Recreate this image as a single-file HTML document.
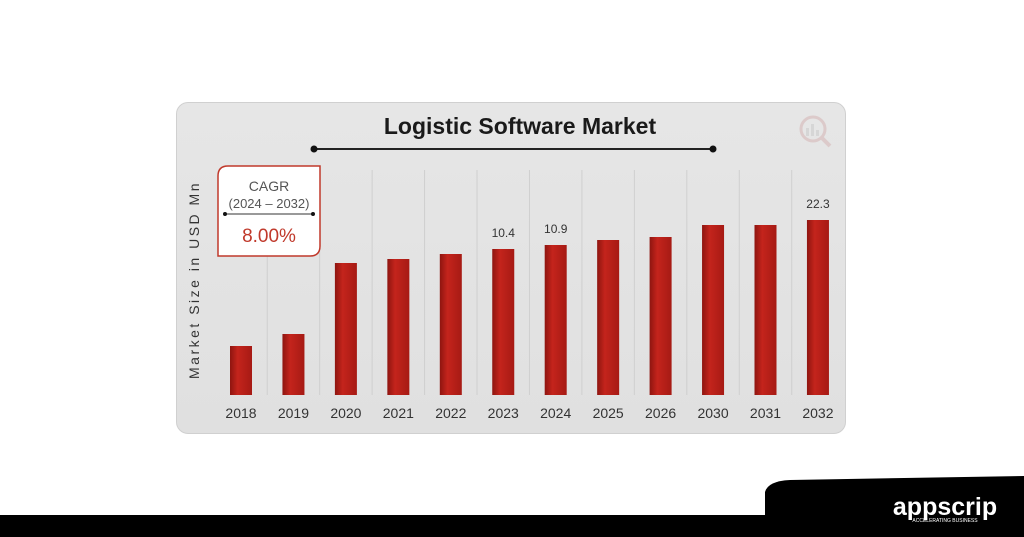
<!DOCTYPE html>
<html><head><meta charset="utf-8"><style>
body{margin:0;width:1024px;height:537px;background:#fff;overflow:hidden;font-family:"Liberation Sans",sans-serif;position:relative}
#panel{position:absolute;left:176px;top:102px;width:668px;height:330px;border-radius:12px;background:linear-gradient(#e6e6e6,#e0e0e0);border:1px solid #d0d0d0}
</style></head><body>
<div id="panel"></div>
<svg width="1024" height="537" style="position:absolute;left:0;top:0">
<defs>
<linearGradient id="bg" x1="0" x2="1"><stop offset="0" stop-color="#8e1510"/><stop offset="0.35" stop-color="#c4241c"/><stop offset="1" stop-color="#a61a14"/></linearGradient>
</defs>
<g id="grid"></g>
<text x="520" y="134" text-anchor="middle" font-size="23" font-weight="bold" fill="#1a1a1a">Logistic Software Market</text>
<line x1="314" y1="149" x2="713" y2="149" stroke="#222" stroke-width="2"/>
<circle cx="314" cy="149" r="3.5" fill="#111"/><circle cx="713" cy="149" r="3.5" fill="#111"/>
<g opacity="0.35"><circle cx="813" cy="129" r="12" fill="none" stroke="#c99" stroke-width="3"/><line x1="822" y1="138" x2="830" y2="146" stroke="#c99" stroke-width="4"/><rect x="806" y="128" width="3" height="8" fill="#bbb"/><rect x="811" y="124" width="3" height="12" fill="#bbb"/><rect x="816" y="130" width="3" height="6" fill="#bbb"/></g>
<text transform="translate(199,280) rotate(-90)" text-anchor="middle" font-size="14" letter-spacing="2.5" fill="#333">Market Size in USD Mn</text>
<g id="bars"></g>
<path d="M228,166 H320 V246 Q320,256 310,256 H218 V176 Q218,166 228,166 Z" fill="#fff" stroke="#c0392b" stroke-width="1.5"/>
<text x="269" y="191" text-anchor="middle" font-size="14" fill="#555">CAGR</text>
<text x="269" y="208" text-anchor="middle" font-size="13" fill="#555">(2024 – 2032)</text>
<line x1="225" y1="214" x2="313" y2="214" stroke="#333" stroke-width="1"/><circle cx="225" cy="214" r="2" fill="#111"/><circle cx="313" cy="214" r="2" fill="#111"/>
<text x="269" y="242" text-anchor="middle" font-size="19" fill="#c0392b">8.00%</text>
<path d="M765,492 Q768,481 790,480 L1024,476 V537 H765 Z" fill="#000"/>
<rect x="0" y="515" width="1024" height="22" fill="#000"/>
<text x="945" y="515" text-anchor="middle" font-size="25" font-weight="bold" fill="#fff">appscrip</text>
<text x="945" y="522" text-anchor="middle" font-size="5" fill="#fff">ACCELERATING BUSINESS</text>
</svg>
<script>
const categories=["2018","2019","2020","2021","2022","2023","2024","2025","2026","2030","2031","2032"];
const values=[4.9,6.1,13.2,13.6,14.1,14.6,15.0,15.5,15.8,17.0,17.0,17.5];
const valueLabels=["","","","","","10.4","10.9","","","","","22.3"];
const x0=241,step=52.45,baseY=395,pxPerUnit=10,bw=22;
const xS=i=>x0+i*step, yS=v=>baseY-v*pxPerUnit;
const ns="http://www.w3.org/2000/svg";
const g=document.getElementById('bars'),gr=document.getElementById('grid');
categories.forEach((c,i)=>{
 if(i>0){const l=document.createElementNS(ns,'line');
  l.setAttribute('x1',xS(i)-step/2);l.setAttribute('x2',xS(i)-step/2);l.setAttribute('y1',170);l.setAttribute('y2',baseY);
  l.setAttribute('stroke','#cfcfcf');l.setAttribute('stroke-width','1');
  
  gr.appendChild(l);}
 const r=document.createElementNS(ns,'rect');
 r.setAttribute('x',xS(i)-bw/2);r.setAttribute('y',yS(values[i]));r.setAttribute('width',bw);r.setAttribute('height',values[i]*pxPerUnit);
 r.setAttribute('fill','url(#bg)');
 
 g.appendChild(r);
 const t=document.createElementNS(ns,'text');
 t.setAttribute('x',xS(i));t.setAttribute('y',418);t.setAttribute('text-anchor','middle');t.setAttribute('font-size','14');t.setAttribute('fill','#333');
 t.textContent=c;
 
 g.appendChild(t);
 if(valueLabels[i]){const v=document.createElementNS(ns,'text');
  v.setAttribute('x',xS(i));v.setAttribute('y',yS(values[i])-12);v.setAttribute('text-anchor','middle');v.setAttribute('font-size','12');v.setAttribute('fill','#333');
  v.textContent=valueLabels[i];
  
  g.appendChild(v);}
});
</script>
</body></html>
